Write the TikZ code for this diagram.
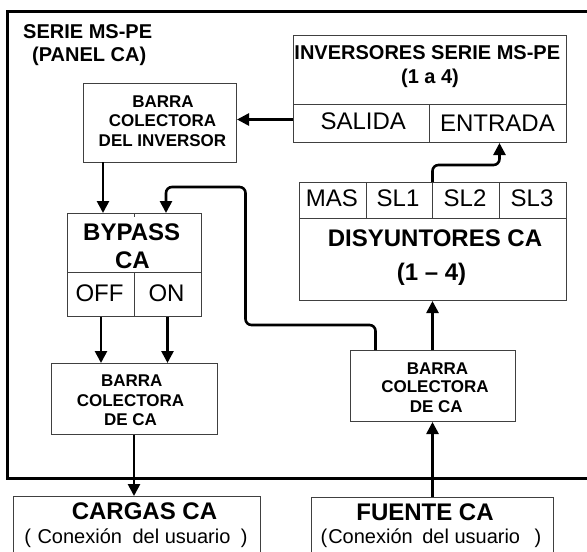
\documentclass[tikz,border=0pt]{standalone}
\usepackage{fontspec}
\setmainfont{Liberation Sans}
\usetikzlibrary{arrows.meta}
\tikzset{
  box/.style={draw=black!75,line width=0.9pt,fill=none},
  lab/.style={inner sep=0pt,anchor=base,align=center,text=black},
  tiny/.style={lab,font=\bfseries\fontsize{17}{17}\selectfont},
  mid/.style={lab,font=\bfseries\fontsize{20}{20}\selectfont},
  big/.style={lab,font=\bfseries\fontsize{24}{24}\selectfont},
  plain/.style={lab,font=\fontsize{24}{24}\selectfont},
  user/.style={lab,font=\fontsize{20}{20}\selectfont},
  flow/.style={line width=2.6pt,draw=black,rounded corners=6pt,-{Triangle[width=12pt,length=12pt]}},
}
\begin{document}
\begin{tikzpicture}[x=1pt,y=-1pt]
\useasboundingbox (0,0) rectangle (587,552);
\coordinate (FL) at (7,11);
\coordinate (FR) at (587,11);
\coordinate (GL) at (7,478);
\coordinate (GR) at (587,478);
\draw[line width=3pt,black] (FR) -- (FL) -- (GL) -- (GR);
% boxes
\draw[box] (83.5,83.5) rectangle (236,162);
\coordinate (barinvS) at (103,162);
\coordinate (barinvE) at (237,119.5);
\draw[box] (293,35) rectangle (566,142);
\draw[box] (293,104) -- (566,104) (429.5,104) -- (429.5,142);
\coordinate (salW) at (293,119.5);
\coordinate (entS) at (499.5,143);
\draw[box] (299.5,182) rectangle (566,300.5);
\draw[box] (299.5,218) -- (566,218) (366,182) -- (366,218) (432.5,182) -- (432.5,218) (499.5,182) -- (499.5,218);
\coordinate (disN) at (432.5,182);
\coordinate (disS) at (432.5,301);
\draw[box] (67.5,213.5) rectangle (201,316.5);
\draw[box] (67.5,272) -- (201,272) (134,272) -- (134,316.5) (134,213.5) -- (134,217);
\coordinate (byA) at (103,213);
\coordinate (byB) at (166,213);
\coordinate (offS) at (101,316.5);
\coordinate (onS) at (167.5,316.5);
\draw[box] (51.5,363) rectangle (217,434.5);
\coordinate (caLA) at (101,363);
\coordinate (caLB) at (167.5,363);
\coordinate (caLS) at (134,434.5);
\draw[box] (350,350) rectangle (515.5,421);
\coordinate (caRN) at (432.5,350);
\coordinate (caRL) at (375.5,350);
\coordinate (caRS) at (432.5,422);
\draw[box] (13.5,496) rectangle (260,560);
\coordinate (carN) at (134,496);
\draw[box] (311,497) rectangle (553,560);
\coordinate (fueN) at (432.5,497);
% labels
\node[mid,anchor=base west] (t1) at (23,38) {SERIE MS-PE};
\node[mid,anchor=base west] (t2) at (32,61) {(PANEL CA)};
\node[tiny] (l1) at (163,107.5) {BARRA};
\node[tiny] (l2) at (162.5,126) {COLECTORA};
\node[tiny] (l3) at (162.5,146) {DEL INVERSOR};
\node[mid] (i1) at (427.3,59) {INVERSORES SERIE MS-PE};
\node[mid] (i2) at (430,83) {(1 a 4)};
\node[plain] (sal) at (363.3,129.5) {SALIDA};
\node[plain] (ent) at (497.5,131.7) {ENTRADA};
\node[plain] (m1) at (332,206.7) {MAS};
\node[plain] (m2) at (398,206.7) {SL1};
\node[plain] (m3) at (465,206.7) {SL2};
\node[plain] (m4) at (532,206.7) {SL3};
\node[big] (d1) at (435,246.7) {DISYUNTORES CA};
\node[big] (d2) at (431.5,280) {(1 – 4)};
\node[big] (b1) at (131.7,240.7) {BYPASS};
\node[big] (b2) at (132.5,268) {CA};
\node[plain] (off) at (99.5,301.3) {OFF};
\node[plain] (on) at (166.5,301.3) {ON};
\node[tiny] (c1) at (131.7,386) {BARRA};
\node[tiny] (c2) at (130.5,406) {COLECTORA};
\node[tiny] (c3) at (130.5,425.3) {DE CA};
\node[tiny] (r1) at (437.5,374.7) {BARRA};
\node[tiny] (r2) at (435,392.7) {COLECTORA};
\node[tiny] (r3) at (436.3,412.7) {DE CA};
\node[big] (k1) at (144.5,519.3) {CARGAS CA};
\node[user] (k2) at (136,543.7) {(\hspace{1pt} Conexión\hspace{5pt} del usuario\hspace{5pt} )};
\node[big] (u1) at (425,520.7) {FUENTE CA};
\node[user] (u2) at (431,543.7) {(\hspace{1pt}Conexión\hspace{4pt} del usuario\hspace{9pt} )};
% connectors
\draw[flow] (salW) -- (barinvE);
\draw[flow] (barinvS) -- (byA);
\draw[flow] (caRL) -- (375.5,325) -- (245.5,325) -- (245.5,187) -- (166,187) -- (byB);
\draw[flow] (offS) -- (caLA);
\draw[flow] (onS) -- (caLB);
\draw[flow] (caLS) -- (carN);
\draw[flow] (disN) -- (432.5,165) -- (499.5,165) -- (entS);
\draw[flow] (caRN) -- (disS);
\draw[flow] (fueN) -- (caRS);
\end{tikzpicture}
\end{document}
